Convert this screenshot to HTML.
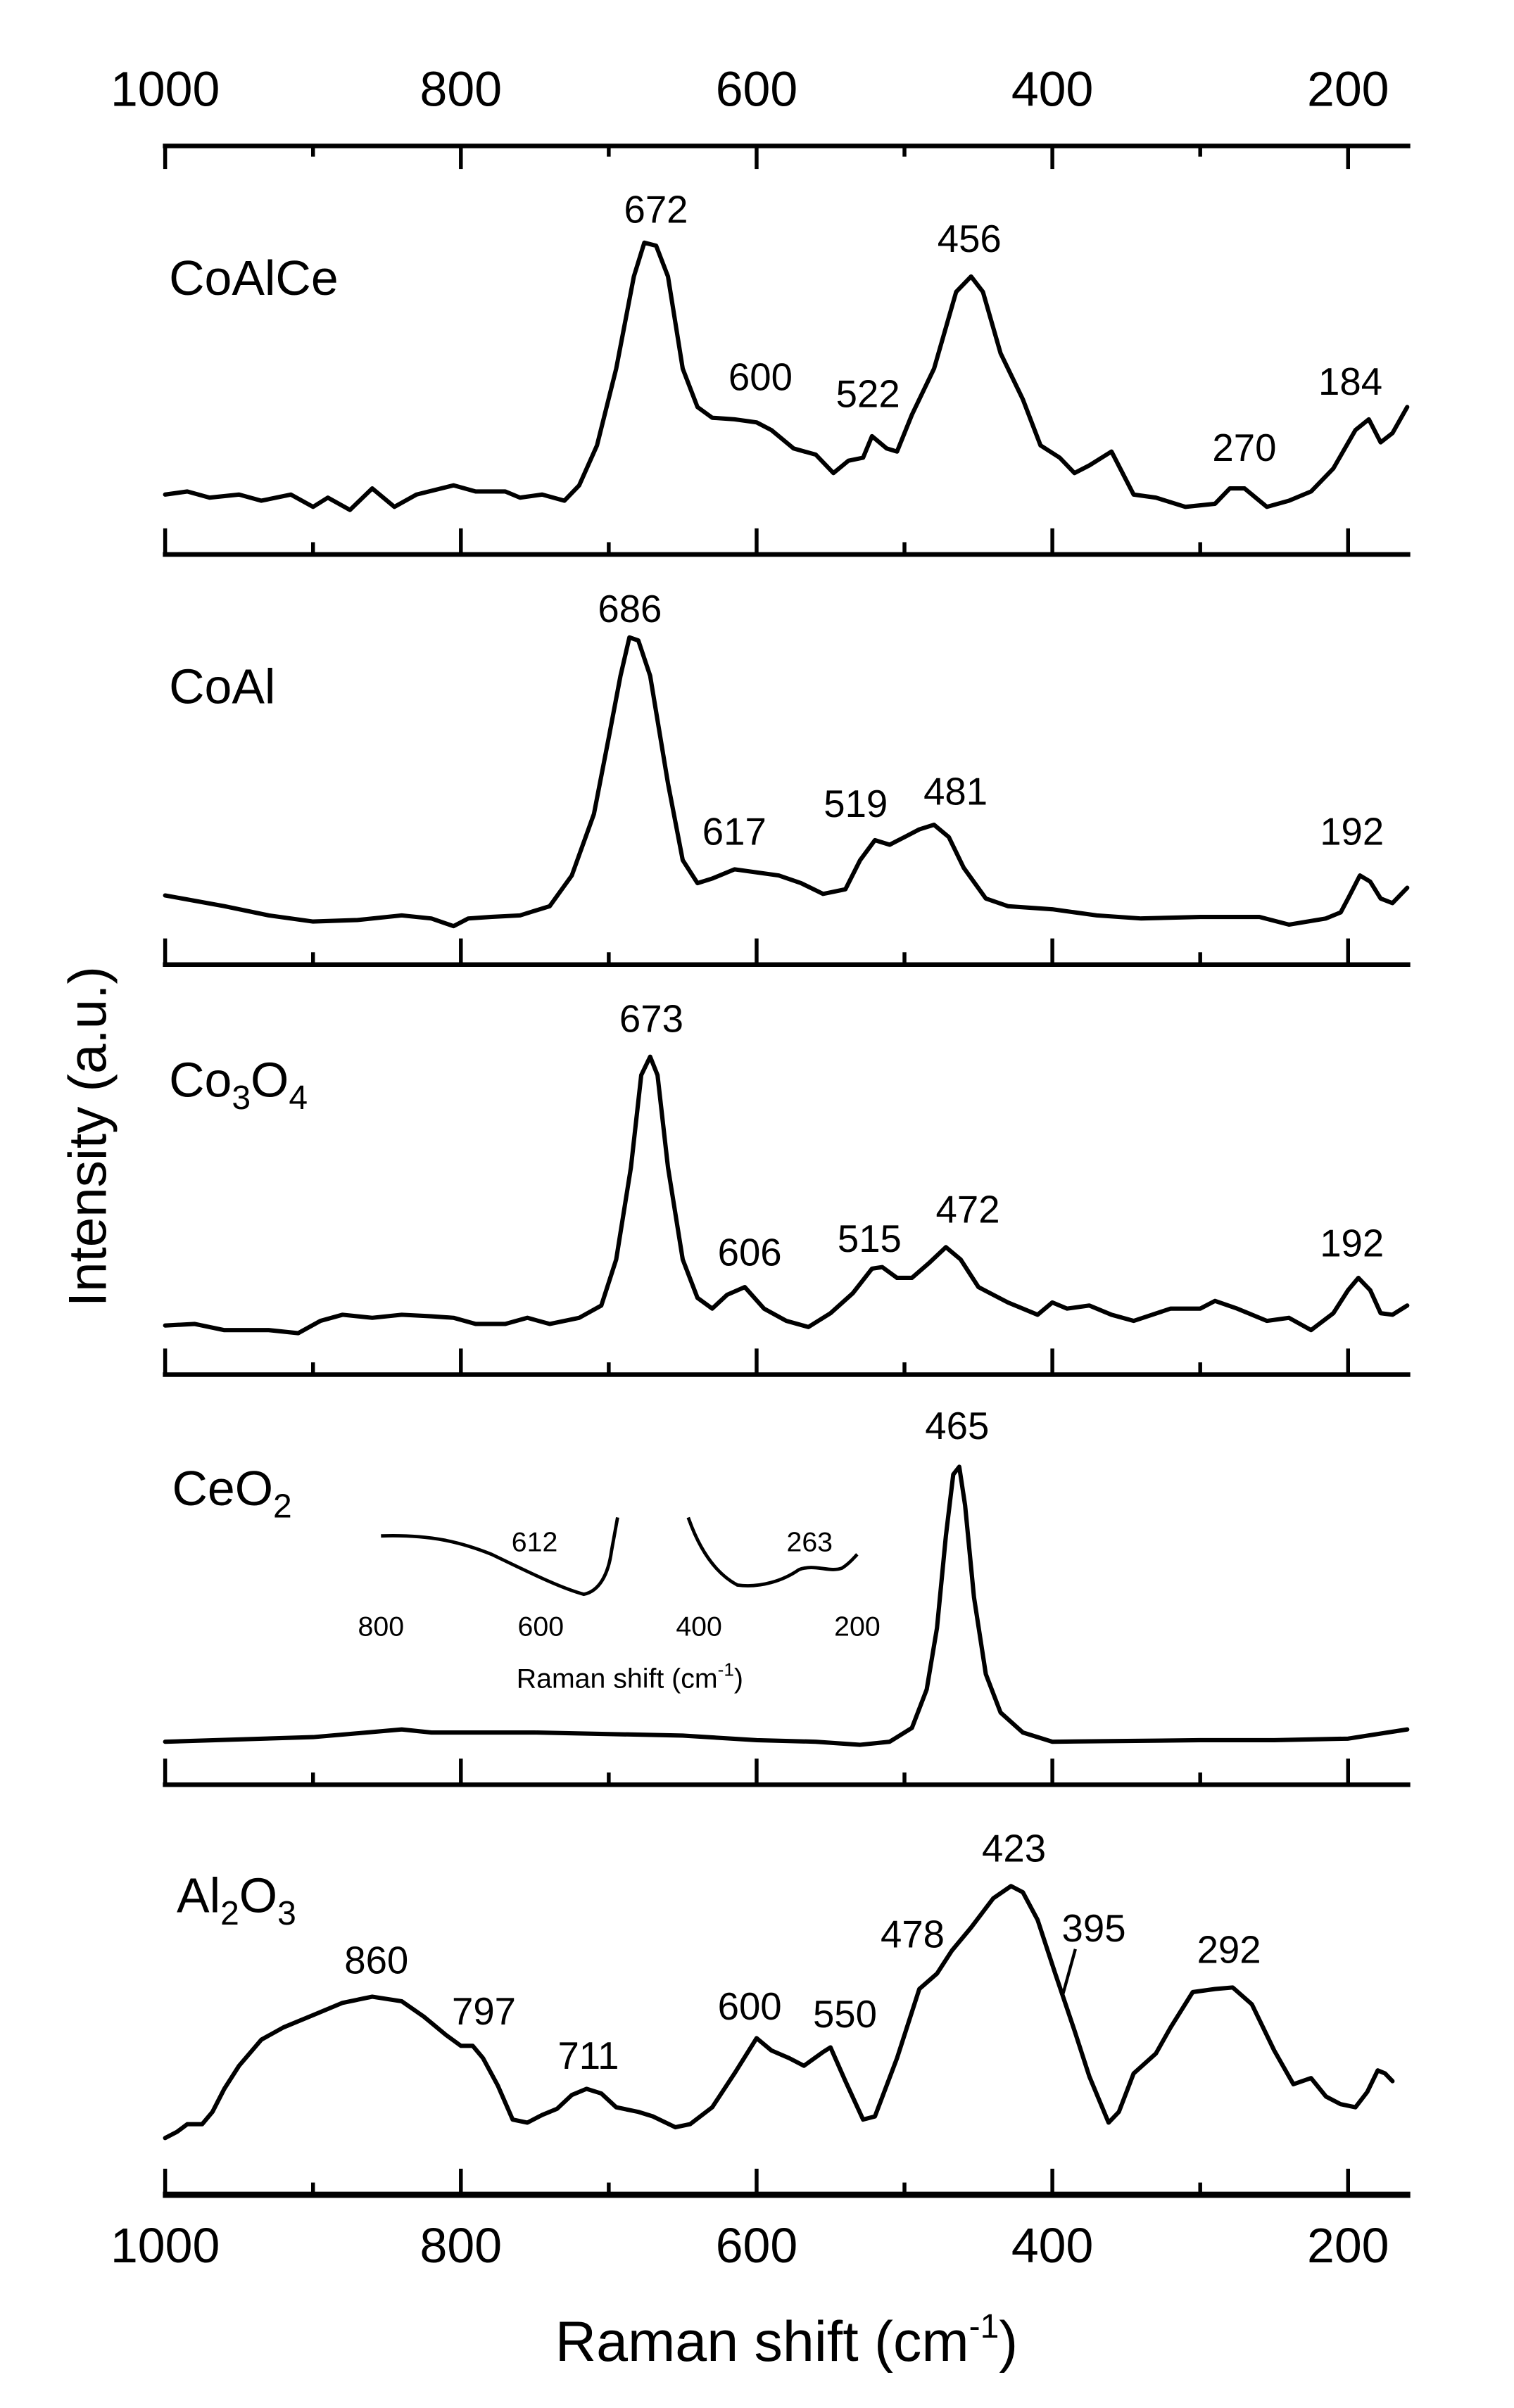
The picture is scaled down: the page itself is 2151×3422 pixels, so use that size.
<!DOCTYPE html>
<html><head><meta charset="utf-8">
<style>
html,body{margin:0;padding:0;background:#fff;}
svg{display:block;}
text{font-family:"Liberation Sans",Arial,sans-serif;fill:#000;}
</style></head>
<body>
<svg id="s" width="2151" height="3422" viewBox="0 0 985.5 1567.8" preserveAspectRatio="none" xmlns="http://www.w3.org/2000/svg">
<g id="axes" stroke="#000" fill="none"></g>
<g id="curves" stroke="#000" fill="none" stroke-width="2.8" stroke-linejoin="round" stroke-linecap="round"></g>
<g font-size="32" text-anchor="middle">
<text x="107.5" y="69">1000</text><text x="300" y="69">800</text><text x="492.5" y="69">600</text><text x="685" y="69">400</text><text x="877.5" y="69">200</text>
<text x="107.5" y="1473">1000</text><text x="300" y="1473">800</text><text x="492.5" y="1473">600</text><text x="685" y="1473">400</text><text x="877.5" y="1473">200</text>
</g>
<text x="512" y="1537" font-size="37" text-anchor="middle">Raman shift (cm<tspan font-size="22" dy="-15">-1</tspan><tspan dy="15">)</tspan></text>
<text transform="translate(69,740) rotate(-90)" font-size="35" text-anchor="middle">Intensity (a.u.)</text>
<g font-size="32">
<text x="110" y="192">CoAlCe</text>
<text x="110" y="458">CoAl</text>
<text x="110" y="714">Co<tspan font-size="22" dy="8">3</tspan><tspan dy="-8">O</tspan><tspan font-size="22" dy="8">4</tspan></text>
<text x="112" y="980">CeO<tspan font-size="22" dy="8">2</tspan></text>
<text x="115" y="1245">Al<tspan font-size="22" dy="8">2</tspan><tspan dy="-8">O</tspan><tspan font-size="22" dy="8">3</tspan></text>
</g>
<g font-size="25" text-anchor="middle">
<text x="427" y="145">672</text><text x="495" y="254">600</text><text x="565" y="265">522</text><text x="631" y="164">456</text><text x="810" y="300">270</text><text x="879" y="257">184</text>
<text x="410" y="405">686</text><text x="478" y="550">617</text><text x="557" y="532">519</text><text x="622" y="524">481</text><text x="880" y="550">192</text>
<text x="424" y="672">673</text><text x="488" y="824">606</text><text x="566" y="815">515</text><text x="630" y="796">472</text><text x="880" y="818">192</text>
<text x="623" y="937">465</text>
<text x="245" y="1285">860</text><text x="315" y="1318">797</text><text x="383" y="1347">711</text><text x="488" y="1315">600</text><text x="550" y="1320">550</text><text x="594" y="1268">478</text><text x="660" y="1212">423</text><text x="712" y="1264">395</text><text x="800" y="1278">292</text>
</g>
<line x1="700" y1="1269" x2="692" y2="1298" stroke="#000" stroke-width="2"/>
<g font-size="18" text-anchor="middle">
<text x="348" y="1010">612</text><text x="527" y="1010">263</text>
<text x="248" y="1065">800</text><text x="352" y="1065">600</text><text x="455" y="1065">400</text><text x="558" y="1065">200</text>
<text x="410" y="1099">Raman shift (cm<tspan font-size="12" dy="-8">-1</tspan><tspan dy="8">)</tspan></text>
</g>
<g stroke="#000" fill="none" stroke-width="2.2">
<path d="M248,1000 C280,999 300,1004 320,1012 C345,1024 365,1034 380,1038 C390,1036 396,1025 398,1010 L402,988"/>
<path d="M448,988 C455,1008 465,1024 480,1032 C495,1034 510,1029 520,1022 C530,1018 540,1024 548,1021 C553,1018 556,1014 558,1012"/>
</g>
</svg>
<script>
var X=function(v){return 107.5+(1000-v)*0.9625;};
var ax=document.getElementById('axes'),cv=document.getElementById('curves');
var NS="http://www.w3.org/2000/svg";
function ln(x1,y1,x2,y2,w){var l=document.createElementNS(NS,'line');l.setAttribute('x1',x1);l.setAttribute('y1',y1);l.setAttribute('x2',x2);l.setAttribute('y2',y2);l.setAttribute('stroke-width',w);ax.appendChild(l);}
// top axis
ln(106,95,918,95,3);
for(var v=1000;v>=200;v-=100){ln(X(v),95,X(v),v%200==0?110:102,2.5);}
var bots=[361,628,895,1162,1429];
bots.forEach(function(b,i){
  ln(106,b,918,b,i==4?4:3);
  for(var v=1000;v>=200;v-=100){ln(X(v),b,X(v),v%200==0?b-17:b-8,2.5);}
});
var data=[
[1000,322,985,320,970,324,950,322,935,326,915,322,900,330,890,324,875,332,860,318,845,330,830,322,805,316,790,320,770,320,760,324,745,322,730,326,720,316,708,290,695,240,683,180,676,158,668,160,660,180,650,240,640,265,630,272,615,273,600,275,590,280,575,292,560,296,548,308,538,300,528,298,522,284,512,292,505,294,495,270,480,240,465,190,455,180,447,190,435,230,420,260,408,290,395,298,385,308,375,303,360,294,345,322,330,324,310,330,290,328,280,318,270,318,255,330,240,326,225,320,210,305,195,280,186,273,178,288,170,282,160,265],
[1000,583,960,590,930,596,900,600,870,599,840,596,820,598,805,603,795,598,780,597,760,596,740,590,725,570,710,530,700,480,692,440,686,415,680,417,672,440,660,510,650,560,640,575,630,572,615,566,600,568,585,570,570,575,555,582,540,579,530,560,520,547,510,550,500,545,490,540,480,537,470,545,460,565,445,585,430,590,400,592,370,596,340,598,300,597,260,597,240,602,215,598,205,594,200,585,192,570,185,574,178,585,170,588,160,578],
[1000,863,980,862,960,866,930,866,910,868,895,860,880,856,860,858,840,856,820,857,805,858,790,862,770,862,755,858,740,862,720,858,705,850,695,820,685,760,678,700,672,688,667,700,660,760,650,820,640,845,630,852,620,843,608,838,595,852,580,860,565,864,550,855,535,842,522,826,515,825,505,832,495,832,483,822,472,812,462,820,450,838,430,848,410,856,400,848,390,852,375,850,360,856,345,860,320,852,300,852,290,847,275,852,255,860,240,858,225,866,210,855,200,840,193,832,185,840,178,855,170,856,160,850],
[1000,1134,900,1131,840,1126,820,1128,750,1128,650,1130,600,1133,560,1134,530,1136,510,1134,495,1125,485,1100,478,1060,472,1000,467,960,463,955,459,980,453,1040,445,1090,435,1115,420,1128,400,1134,300,1133,250,1133,200,1132,160,1126],
[1000,1392,992,1388,985,1383,975,1383,968,1375,960,1360,950,1345,935,1328,920,1320,900,1312,880,1304,860,1300,840,1303,825,1313,810,1325,800,1332,792,1332,785,1340,775,1358,765,1380,755,1382,745,1377,735,1373,725,1364,715,1360,705,1363,695,1372,680,1375,670,1378,655,1385,645,1383,630,1372,615,1350,600,1327,590,1335,578,1340,568,1345,555,1336,550,1333,540,1355,528,1380,520,1378,505,1340,490,1295,478,1285,468,1270,455,1255,440,1236,428,1228,420,1232,410,1250,398,1285,385,1322,375,1352,362,1382,355,1375,345,1350,330,1337,320,1320,305,1297,290,1295,278,1294,265,1305,250,1335,237,1357,225,1353,215,1365,205,1370,195,1372,187,1362,180,1348,175,1350,170,1355]
];
data.forEach(function(d){
  var s='';for(var i=0;i<d.length;i+=2){s+=(i?'L':'M')+X(d[i]).toFixed(1)+','+d[i+1]+' ';}
  var p=document.createElementNS(NS,'path');p.setAttribute('d',s);cv.appendChild(p);
});
</script>
</body></html>
